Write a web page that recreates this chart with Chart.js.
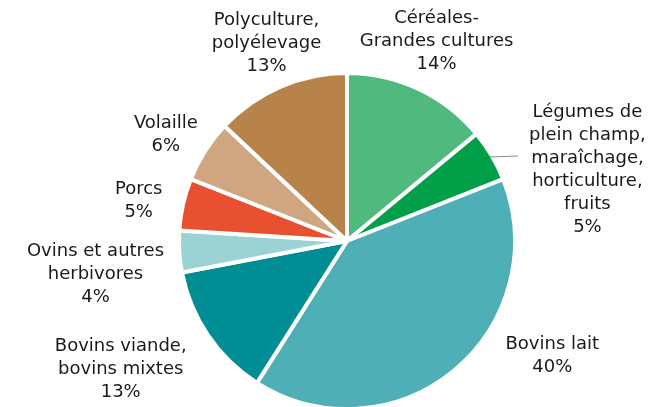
<!DOCTYPE html>
<html>
<head>
<meta charset="utf-8">
<script src="https://cdn.jsdelivr.net/npm/chart.js@4/dist/chart.umd.min.js"></script>
<style>
  html, body { margin: 0; padding: 0; background: #fff; overflow: hidden; }
  #wrap { width: 663px; height: 411px; position: relative; }
</style>
</head>
<body>
<div id="wrap"><canvas id="pie"></canvas></div>
<script>
// Répartition des exploitations par orientation
const categories = [
    ["Céréales-", "Grandes cultures"],
    ["Légumes de", "plein champ,", "maraîchage,", "horticulture,", "fruits"],
    ["Bovins lait"],
    ["Bovins viande,", "bovins mixtes"],
    ["Ovins et autres", "herbivores"],
    ["Porcs"],
    ["Volaille"],
    ["Polyculture,", "polyélevage"]
];
const shares = [14, 5, 40, 13, 4, 5, 6, 13];
const colors = ["#50b97e", "#009f48", "#4fafb7", "#008d94", "#9bd3d5", "#e8512f", "#cfa67f", "#b8834b"];

// label block centres, relative to pie centre, in units of radius
const labelOffsets = [
    [0.533, -1.186], [1.431, -0.425], [1.222, 0.683], [-1.347, 0.766],
    [-1.497, 0.198], [-1.24, -0.24], [-1.078, -0.629], [-0.479, -1.174]
];
const leaderFor = 1; // only "Légumes" has a leader line

const labelPlugin = {
    id: "pieLabels",
    afterDatasetsDraw(chart) {
        const ctx = chart.ctx;
        const meta = chart.getDatasetMeta(0);
        const lineH = 23;
        ctx.save();
        ctx.font = "18px 'DejaVu Sans', Verdana, sans-serif";
        ctx.fillStyle = "#1a1a1a";
        ctx.textAlign = "center";
        ctx.textBaseline = "middle";
        meta.data.forEach((arc, i) => {
            const r = arc.outerRadius;
            const cx = arc.x + labelOffsets[i][0] * r;
            const cy = arc.y + labelOffsets[i][1] * r;
            const lines = [...categories[i], shares[i] + "%"];
            const top = cy - (lines.length - 1) * lineH / 2;
            lines.forEach((t, k) => ctx.fillText(t, cx, top + k * lineH));

            if (i === leaderFor) {
                const mid = (arc.startAngle + arc.endAngle) / 2;
                const sx = arc.x + Math.cos(mid) * (r - 3);
                const sy = arc.y + Math.sin(mid) * (r - 3);
                ctx.strokeStyle = "#8a8a8a";
                ctx.lineWidth = 1;
                ctx.beginPath();
                ctx.moveTo(sx, sy);
                ctx.lineTo(sx + 29, sy - 1);
                ctx.stroke();
            }
        });
        ctx.restore();
    }
};

new Chart(document.getElementById("pie"), {
    type: "pie",
    data: {
        labels: categories.map(c => c.join(" ")),
        datasets: [{
            data: shares,
            backgroundColor: colors,
            borderColor: "#ffffff",
            borderWidth: 4
        }]
    },
    options: {
        responsive: true, maintainAspectRatio: false,
        animation: false,
        layout: { padding: { left: 177, right: 146, top: 71, bottom: 0 } },
        plugins: {
            legend: { display: false },
            tooltip: { enabled: false }
        }
    },
    plugins: [labelPlugin]
});
</script>
</body>
</html>
